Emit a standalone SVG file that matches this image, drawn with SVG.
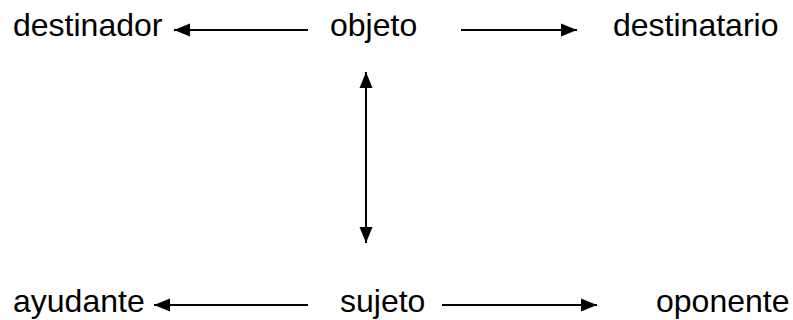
<svg xmlns="http://www.w3.org/2000/svg" width="793" height="320" viewBox="0 0 793 320">
<defs>
<style>
text{font-family:"Liberation Sans",Arial,sans-serif;font-size:32px;fill:#000}
.c{stroke:#000;stroke-width:2;fill:none}
</style>
<marker id="ah" markerUnits="userSpaceOnUse" markerWidth="16" markerHeight="14" refX="16" refY="7" orient="auto-start-reverse" viewBox="0 0 16 14">
<path d="M0,0.5 L16,7 L0,13.5 Z" fill="#000"/>
</marker>
</defs>
<rect width="793" height="320" fill="#fff"/>
<g id="connectors">
<line class="c" x1="308" y1="30" x2="174" y2="30" marker-end="url(#ah)"/>
<line class="c" x1="461" y1="30" x2="577" y2="30" marker-end="url(#ah)"/>
<line class="c" x1="366" y1="72" x2="366" y2="243" marker-start="url(#ah)" marker-end="url(#ah)"/>
<line class="c" x1="308" y1="305" x2="154" y2="305" marker-end="url(#ah)"/>
<line class="c" x1="442" y1="305" x2="597" y2="305" marker-end="url(#ah)"/>
</g>
<g id="destinador"><text x="13" y="36">destinador</text></g>
<g id="objeto"><text x="330" y="36">objeto</text></g>
<g id="destinatario"><text x="613" y="36">destinatario</text></g>
<g id="ayudante"><text x="13" y="312">ayudante</text></g>
<g id="sujeto"><text x="340" y="312">sujeto</text></g>
<g id="oponente"><text x="656" y="312">oponente</text></g>
</svg>
